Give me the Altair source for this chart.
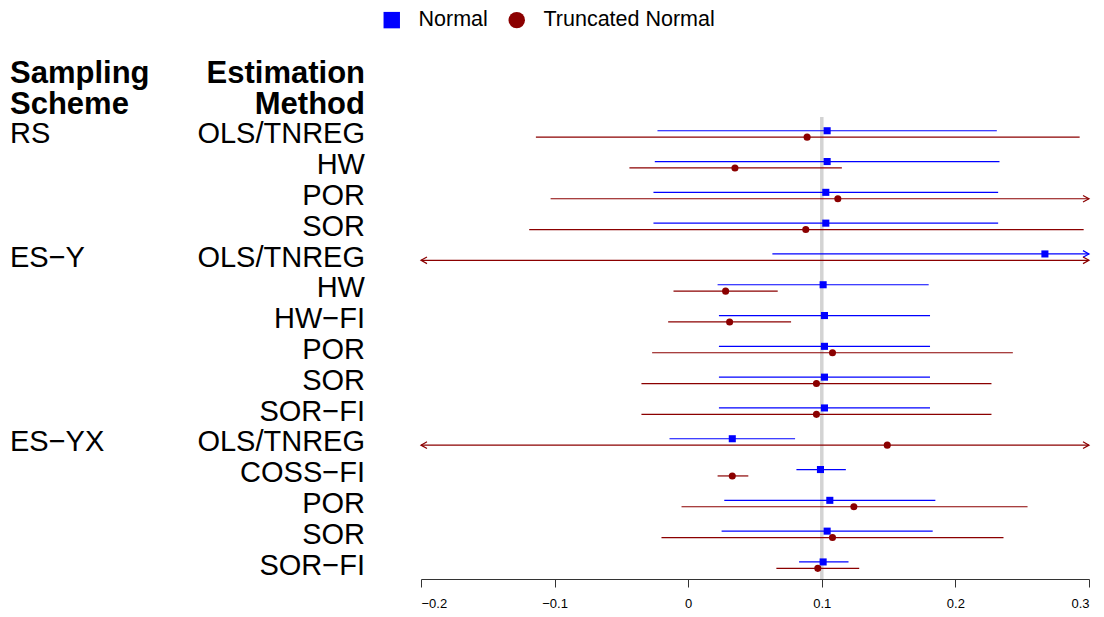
import altair as alt
import pandas as pd

# ---- data ----
schemes = ["RS", "ES−Y", "ES−YX"]
methods = [
    ["OLS/TNREG", "HW", "POR", "SOR"],
    ["OLS/TNREG", "HW", "HW−FI", "POR", "SOR", "SOR−FI"],
    ["OLS/TNREG", "COSS−FI", "POR", "SOR", "SOR−FI"],
]
# None = beyond the plotted range (drawn with an arrow) / not shown
normal_est = [0.104, 0.104, 0.103, 0.103, 0.267, 0.101, 0.102, 0.102, 0.102, 0.102, 0.033, 0.099, 0.106, 0.104, 0.101]
normal_lo = [-0.023, -0.025, -0.026, -0.026, 0.063, 0.022, 0.023, 0.023, 0.023, 0.023, -0.014, 0.081, 0.027, 0.025, 0.083]
normal_hi = [0.231, 0.233, 0.232, 0.232, None, 0.180, 0.181, 0.181, 0.181, 0.181, 0.080, 0.118, 0.185, 0.183, 0.120]
tn_est = [0.089, 0.035, 0.112, 0.088, None, 0.028, 0.031, 0.108, 0.096, 0.096, 0.149, 0.033, 0.124, 0.108, 0.097]
tn_lo = [-0.114, -0.044, -0.103, -0.119, None, -0.011, -0.015, -0.027, -0.035, -0.035, None, 0.022, -0.005, -0.020, 0.066]
tn_hi = [0.293, 0.115, None, 0.296, None, 0.067, 0.077, 0.243, 0.227, 0.227, None, 0.045, 0.254, 0.236, 0.128]
true_value = [0.1]
x_ticks = [-0.2, -0.1, 0.0, 0.1, 0.2, 0.3]
dists = ["Normal", "Truncated Normal"]
dist_colors = ["#0000ff", "#8b0000"]
dist_shapes = ["square", "circle"]

X_MIN, X_MAX = x_ticks[0], x_ticks[-1]
FONT = "Liberation Sans"

# ---- tables ----
label_rows = []
r = 1
for s, ms in zip(schemes, methods):
    for k, m in enumerate(ms):
        label_rows.append({"row": r, "scheme": s if k == 0 else "", "method": m})
        r += 1
labels = pd.DataFrame(label_rows)
n = len(labels)


def dist_table(name, est, lo, hi):
    recs = []
    for i in range(n):
        recs.append({
            "row": i + 1,
            "dist": name,
            "est": est[i],
            "lo": lo[i] if lo[i] is not None else X_MIN,
            "hi": hi[i] if hi[i] is not None else X_MAX,
            "left_arrow": lo[i] is None,
            "right_arrow": hi[i] is None,
        })
    return pd.DataFrame(recs)


tables = [dist_table(dists[0], normal_est, normal_lo, normal_hi),
          dist_table(dists[1], tn_est, tn_lo, tn_hi)]

xscale = alt.Scale(domain=[X_MIN, X_MAX], nice=False, zero=False)
yscale = alt.Scale(domain=[0.45, n + 0.45], reverse=True, nice=False, zero=False)
AX = alt.Axis(values=x_ticks, format=".1~f", title=None, grid=False, tickSize=8,
              labelFontSize=13, labelPadding=10, labelFont=FONT, labelColor="#000000",
              domainColor="#333333", tickColor="#333333", domainWidth=1, tickWidth=1)
Y = alt.Y("row:Q", scale=yscale, axis=None)

colscale = alt.Scale(domain=dists, range=dist_colors)
shpscale = alt.Scale(domain=dists, range=dist_shapes)
LEG = alt.Legend(title=None, orient="none", legendX=-40, legendY=-108, direction="horizontal",
                 labelFontSize=21.5, labelFont=FONT, labelColor="#000000", symbolSize=270,
                 labelOffset=16, columnPadding=18, symbolStrokeWidth=0, padding=0,
                 symbolOpacity=1, labelLimit=400)

ref = alt.Chart(pd.DataFrame({"truth": true_value})).mark_rule(
    color="#d3d3d3", strokeWidth=3.5).encode(x=alt.X("truth:Q", scale=xscale, axis=AX))

layers = [ref]
offsets = [-3.2, 3.2]
for df, col, off in zip(tables, dist_colors, offsets):
    base = alt.Chart(df)
    lines = base.mark_rule(strokeWidth=1.2, yOffset=off).encode(
        x=alt.X("lo:Q", scale=xscale, axis=AX), x2="hi:Q", y=Y, color=alt.value(col))
    rarr = base.transform_filter("datum.right_arrow").mark_point(
        shape="M-1,-0.55L0,0L-1,0.55", filled=False, size=144, strokeWidth=1.2, yOffset=off,
        opacity=1).encode(x=alt.X("hi:Q", scale=xscale, axis=AX), y=Y, color=alt.value(col))
    larr = base.transform_filter("datum.left_arrow").mark_point(
        shape="M1,-0.55L0,0L1,0.55", filled=False, size=144, strokeWidth=1.2, yOffset=off,
        opacity=1).encode(x=alt.X("lo:Q", scale=xscale, axis=AX), y=Y, color=alt.value(col))
    layers += [lines, rarr, larr]

for df, off in zip(tables, offsets):
    pts = alt.Chart(df).transform_filter("isValid(datum.est)").mark_point(
        filled=True, size=50, opacity=1, yOffset=off).encode(
        x=alt.X("est:Q", scale=xscale, axis=AX), y=Y,
        color=alt.Color("dist:N", scale=colscale, legend=LEG),
        shape=alt.Shape("dist:N", scale=shpscale, legend=LEG))
    layers.append(pts)

lab = alt.Chart(labels)
scheme_txt = lab.mark_text(align="left", baseline="alphabetic", dy=9.5, fontSize=29,
                           font=FONT, color="#000000").encode(
    x=alt.value(-411), y=Y, text="scheme:N")
method_txt = lab.mark_text(align="right", baseline="alphabetic", dy=9.5, fontSize=29,
                           font=FONT, color="#000000").encode(
    x=alt.value(-56), y=Y, text="method:N")
hdr = pd.DataFrame({"h": ["Sampling Scheme", "Estimation Method"]})
hdr_left = alt.Chart(hdr).transform_filter("datum.h == 'Sampling Scheme'").mark_text(
    align="left", baseline="alphabetic", fontSize=31, fontWeight="bold", font=FONT,
    lineHeight=31, color="#000000").encode(
    x=alt.value(-411), y=alt.value(-34), text=alt.value(["Sampling", "Scheme"]))
hdr_right = alt.Chart(hdr).transform_filter("datum.h == 'Estimation Method'").mark_text(
    align="right", baseline="alphabetic", fontSize=31, fontWeight="bold", font=FONT,
    lineHeight=31, color="#000000").encode(
    x=alt.value(-56), y=alt.value(-34), text=alt.value(["Estimation", "Method"]))

layers += [scheme_txt, method_txt, hdr_left, hdr_right]

chart = alt.layer(*layers).properties(
    width=668, height=462,
    autosize=alt.AutoSizeParams(type="none"),
    padding={"left": 413, "top": 109, "right": 7, "bottom": 30},
    background="white",
).configure_view(stroke=None)

chart.save("out.html", embed_options={"renderer": "svg", "actions": False})
